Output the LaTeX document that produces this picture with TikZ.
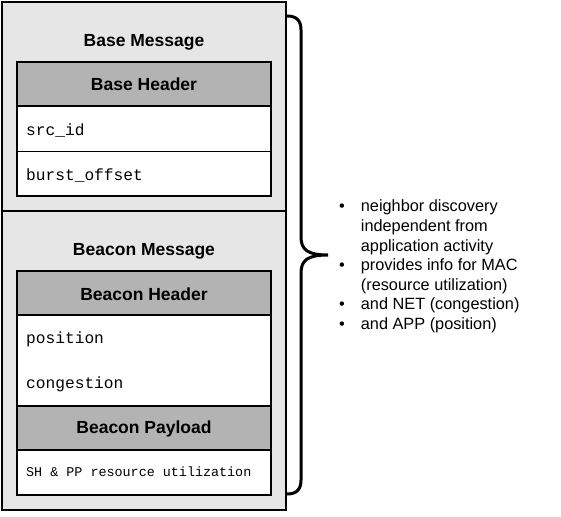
\documentclass[tikz,border=0pt]{standalone}
\usepackage{fontspec}
\setmainfont{Liberation Sans}
\newfontfamily\monof{Liberation Mono}
\definecolor{boxgray}{HTML}{E6E6E6}
\definecolor{hdrgray}{HTML}{B3B3B3}
\begin{document}
\begin{tikzpicture}[x=1bp,y=-1bp,
  titlefont/.style={font=\fontsize{17.5bp}{21bp}\selectfont\bfseries},
  msgbox/.style={draw, fill=boxgray, line width=1.8bp, minimum width=284bp, inner sep=0pt},
  tablebox/.style={draw, fill=white, line width=2bp, minimum width=254bp, inner sep=0pt},
  hdrbox/.style={draw, fill=hdrgray, line width=2bp, minimum width=254bp, minimum height=44bp, inner sep=0pt, titlefont},
  fieldtxt/.style={anchor=base west, inner sep=0pt, font=\fontsize{16.2bp}{19bp}\selectfont\monof},
  smallfield/.style={anchor=base west, inner sep=0pt, font=\fontsize{13.4bp}{16bp}\selectfont\monof},
  titletxt/.style={anchor=base, inner sep=0pt, titlefont},
  brace/.style={line width=3bp}
]
\useasboundingbox (0,0) rectangle (561,517);

% outer message containers
\node[msgbox, minimum height=209bp] (basemsg) at (144,106.5) {};
\node[msgbox, minimum height=299bp] (beaconmsg) at (144,360.5) {};
\draw[line width=1bp] (basemsg.south west) -- (basemsg.south east);

% titles
\node[titletxt] (basetitle) at (144,46.7) {Base Message};
\node[titletxt] (beacontitle) at (144,255.7) {Beacon Message};

% base header table
\node[tablebox, minimum height=134bp] (basetable) at (144,129) {};
\node[hdrbox, anchor=north] (basehdr) at (basetable.north) {};
\node[titletxt] (basehdrtxt) at (144,91) {Base Header};
\coordinate (divl) at (17,152);
\coordinate (divr) at (271,152);
\draw[line width=1bp] (divl) -- (divr);
\node[fieldtxt] (srcid) at (26,135.3) {src\_id};
\node[fieldtxt] (burst) at (26,180.3) {burst\_offset};

% beacon table
\node[tablebox, minimum height=224bp] (beacontable) at (144,383) {};
\node[hdrbox, anchor=north] (beaconhdr) at (beacontable.north) {};
\node[titletxt] (beaconhdrtxt) at (144,300) {Beacon Header};
\node[fieldtxt] (position) at (26,343.3) {position};
\node[fieldtxt] (congestion) at (26,388.3) {congestion};
\node[hdrbox] (payload) at (144,428) {};
\node[titletxt] (payloadtxt) at (144,433.3) {Beacon Payload};
\node[smallfield] (shpp) at (26,476.7) {SH \& PP resource utilization};

% brace
\coordinate (btop) at (287,16);
\coordinate (bbot) at (287,494);
\coordinate (btip) at (328,255);
\draw[brace, line cap=round]
  (btop) .. controls (297,16) and (301,21) .. (301,30)
  -- (301,237)
  .. controls (301,250) and (308,255) .. (btip)
  .. controls (308,255) and (301,260) .. (301,273)
  -- (301,480)
  .. controls (301,489) and (297,494) .. (bbot);

% bullet list
\node[anchor=base west, inner sep=0pt, font=\fontsize{16.3bp}{19.5bp}\selectfont] (notes) at (339,212) {%
  \begin{tabular}[t]{@{}l@{\hspace{16bp}}l@{}}
  • & neighbor discovery\\
    & independent from\\
    & application activity\\
  • & provides info for MAC\\
    & (resource utilization)\\
  • & and NET (congestion)\\
  • & and APP (position)
  \end{tabular}};
\end{tikzpicture}
\end{document}
